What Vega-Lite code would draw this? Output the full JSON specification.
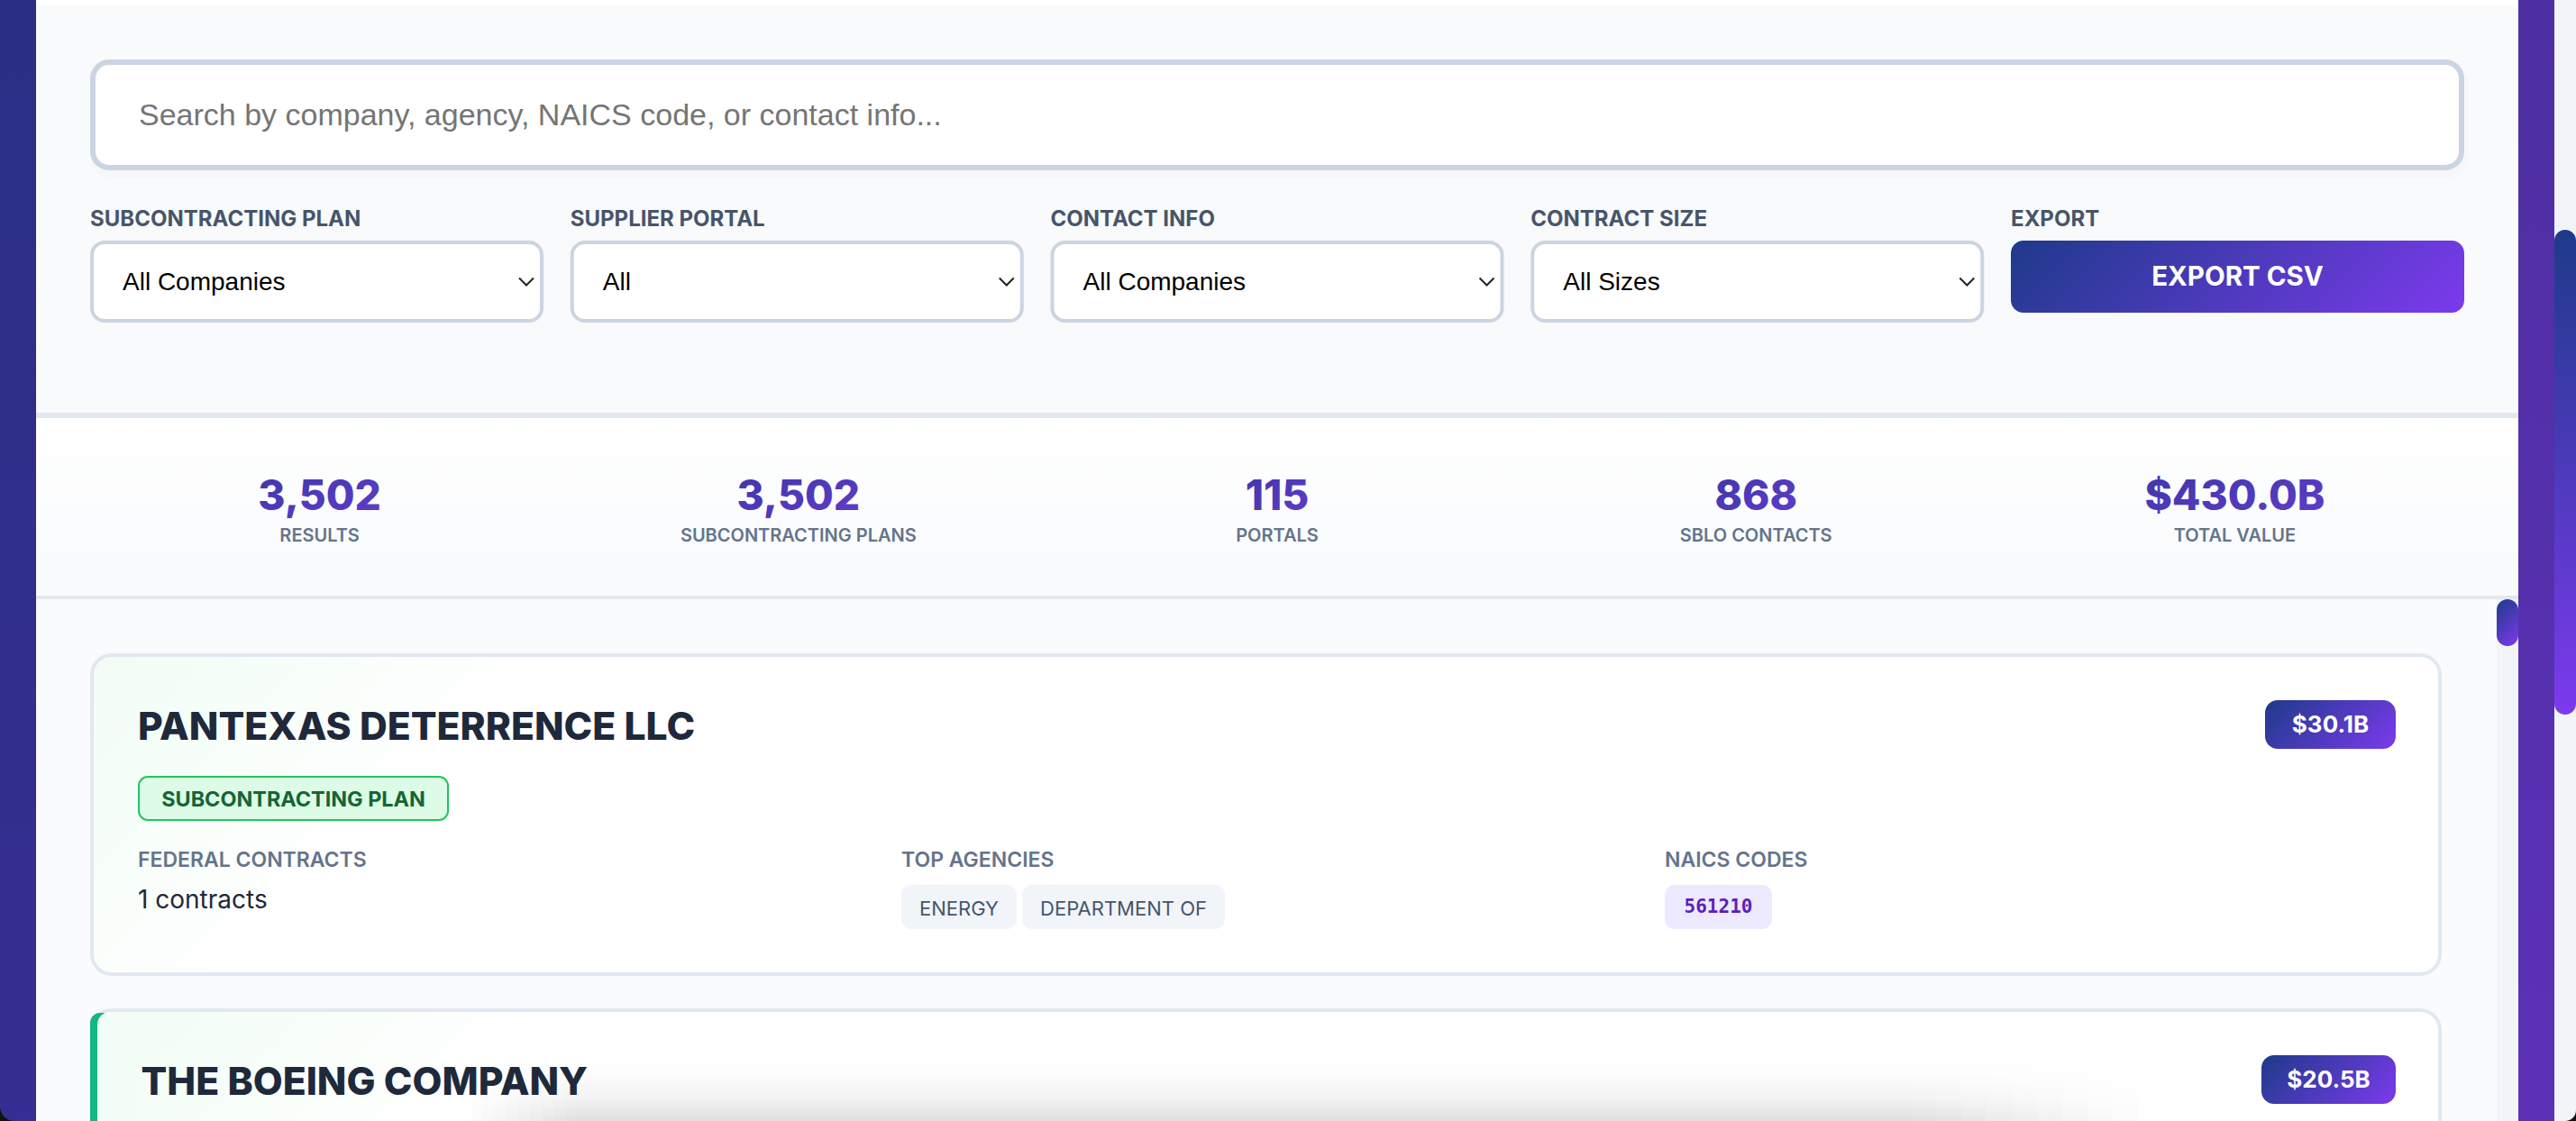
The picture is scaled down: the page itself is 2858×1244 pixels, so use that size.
{"$schema":"https://vega.github.io/schema/vega-lite/v6.json","width":2858,"height":1244,"padding":0,"autosize":"none","background":"#ffffff","config":{"view":{"stroke":null}},"resolve":{"scale":{"x":"independent","y":"independent","opacity":"independent"}},"layer":[
{"data":{"values":[{"col":"Corner left","row":"Corner"}]},"mark":{"type":"rect","fill":"#0c140c"},"encoding":{"x":{"field":"col","type":"nominal","axis":null,"scale":{"type":"band","domain":["Corner left"],"range":[0,20],"paddingInner":0,"paddingOuter":0}},"y":{"field":"row","type":"nominal","axis":null,"scale":{"type":"band","domain":["Corner"],"range":[1224,1244],"paddingInner":0,"paddingOuter":0}}}},
{"data":{"values":[{"col":"Corner right","row":"Corner"}]},"mark":{"type":"rect","fill":"#0c140c"},"encoding":{"x":{"field":"col","type":"nominal","axis":null,"scale":{"type":"band","domain":["Corner right"],"range":[2838,2858],"paddingInner":0,"paddingOuter":0}},"y":{"field":"row","type":"nominal","axis":null,"scale":{"type":"band","domain":["Corner"],"range":[1224,1244],"paddingInner":0,"paddingOuter":0}}}},
{"data":{"values":[{"col":"Left edge","row":"Window"}]},"mark":{"type":"rect","cornerRadiusBottomLeft":16,"fill":{"gradient":"linear","x1":0,"y1":0,"x2":0,"y2":1,"stops":[{"offset":0,"color":"#2a2f85"},{"offset":1,"color":"#362e92"}]}},"encoding":{"x":{"field":"col","type":"nominal","axis":null,"scale":{"type":"band","domain":["Left edge"],"range":[0,40],"paddingInner":0,"paddingOuter":0}},"y":{"field":"row","type":"nominal","axis":null,"scale":{"type":"band","domain":["Window"],"range":[0,1244],"paddingInner":0,"paddingOuter":0}}}},
{"data":{"values":[{"col":"Right edge","row":"Window"}]},"mark":{"type":"rect","fill":{"gradient":"linear","x1":0,"y1":0,"x2":0,"y2":1,"stops":[{"offset":0,"color":"#4e2fa2"},{"offset":1,"color":"#5c31b8"}]}},"encoding":{"x":{"field":"col","type":"nominal","axis":null,"scale":{"type":"band","domain":["Right edge"],"range":[2794,2834],"paddingInner":0,"paddingOuter":0}},"y":{"field":"row","type":"nominal","axis":null,"scale":{"type":"band","domain":["Window"],"range":[0,1244],"paddingInner":0,"paddingOuter":0}}}},
{"data":{"values":[{"col":"Page track","row":"Window"}]},"mark":{"type":"rect","fill":"#f1f5f9","cornerRadiusBottomRight":16},"encoding":{"x":{"field":"col","type":"nominal","axis":null,"scale":{"type":"band","domain":["Page track"],"range":[2834,2858],"paddingInner":0,"paddingOuter":0}},"y":{"field":"row","type":"nominal","axis":null,"scale":{"type":"band","domain":["Window"],"range":[0,1244],"paddingInner":0,"paddingOuter":0}}}},
{"data":{"values":[{"col":"Page thumb","row":"Thumb"}]},"mark":{"type":"rect","cornerRadius":12,"fill":{"gradient":"linear","x1":0,"y1":0,"x2":0,"y2":1,"stops":[{"offset":0,"color":"#1e3a8a"},{"offset":1,"color":"#7c3aed"}]}},"encoding":{"x":{"field":"col","type":"nominal","axis":null,"scale":{"type":"band","domain":["Page thumb"],"range":[2834,2858],"paddingInner":0,"paddingOuter":0}},"y":{"field":"row","type":"nominal","axis":null,"scale":{"type":"band","domain":["Thumb"],"range":[255,793],"paddingInner":0,"paddingOuter":0}}}},
{"data":{"values":[{"col":"Panel","row":"Filters"}]},"mark":{"type":"rect","fill":"#f8fafc"},"encoding":{"x":{"field":"col","type":"nominal","axis":null,"scale":{"type":"band","domain":["Panel"],"range":[40,2794],"paddingInner":0,"paddingOuter":0}},"y":{"field":"row","type":"nominal","axis":null,"scale":{"type":"band","domain":["Filters"],"range":[6,458],"paddingInner":0,"paddingOuter":0}}}},
{"data":{"values":[{"col":"Panel","row":"Divider"}]},"mark":{"type":"rect","fill":"#e2e8f0"},"encoding":{"x":{"field":"col","type":"nominal","axis":null,"scale":{"type":"band","domain":["Panel"],"range":[40,2794],"paddingInner":0,"paddingOuter":0}},"y":{"field":"row","type":"nominal","axis":null,"scale":{"type":"band","domain":["Divider"],"range":[458,464],"paddingInner":0,"paddingOuter":0}}}},
{"data":{"values":[{"col":"Panel","row":"Stats"}]},"mark":{"type":"rect","fill":{"gradient":"linear","x1":0,"y1":0,"x2":0,"y2":1,"stops":[{"offset":0,"color":"#ffffff"},{"offset":1,"color":"#f8fafc"}]}},"encoding":{"x":{"field":"col","type":"nominal","axis":null,"scale":{"type":"band","domain":["Panel"],"range":[40,2794],"paddingInner":0,"paddingOuter":0}},"y":{"field":"row","type":"nominal","axis":null,"scale":{"type":"band","domain":["Stats"],"range":[464,661],"paddingInner":0,"paddingOuter":0}}}},
{"data":{"values":[{"col":"Panel","row":"Divider"}]},"mark":{"type":"rect","fill":"#e2e8f0"},"encoding":{"x":{"field":"col","type":"nominal","axis":null,"scale":{"type":"band","domain":["Panel"],"range":[40,2794],"paddingInner":0,"paddingOuter":0}},"y":{"field":"row","type":"nominal","axis":null,"scale":{"type":"band","domain":["Divider"],"range":[661,665],"paddingInner":0,"paddingOuter":0}}}},
{"data":{"values":[{"col":"Panel","row":"List"}]},"mark":{"type":"rect","fill":"#fafbfd"},"encoding":{"x":{"field":"col","type":"nominal","axis":null,"scale":{"type":"band","domain":["Panel"],"range":[40,2794],"paddingInner":0,"paddingOuter":0}},"y":{"field":"row","type":"nominal","axis":null,"scale":{"type":"band","domain":["List"],"range":[665,1244],"paddingInner":0,"paddingOuter":0}}}},
{"data":{"values":[{"col":"List track","row":"List"}]},"mark":{"type":"rect","fill":"#f1f5f9"},"encoding":{"x":{"field":"col","type":"nominal","axis":null,"scale":{"type":"band","domain":["List track"],"range":[2770,2794],"paddingInner":0,"paddingOuter":0}},"y":{"field":"row","type":"nominal","axis":null,"scale":{"type":"band","domain":["List"],"range":[665,1244],"paddingInner":0,"paddingOuter":0}}}},
{"data":{"values":[{"col":"List thumb","row":"Thumb"}]},"mark":{"type":"rect","cornerRadius":12,"fill":{"gradient":"linear","x1":0,"y1":0,"x2":0.556,"y2":1.206,"stops":[{"offset":0,"color":"#1e3a8a"},{"offset":1,"color":"#7c3aed"}]}},"encoding":{"x":{"field":"col","type":"nominal","axis":null,"scale":{"type":"band","domain":["List thumb"],"range":[2770,2794],"paddingInner":0,"paddingOuter":0}},"y":{"field":"row","type":"nominal","axis":null,"scale":{"type":"band","domain":["Thumb"],"range":[665,717],"paddingInner":0,"paddingOuter":0}}}},
{"data":{"values":[{"col":"Search","row":"Search"}]},"mark":{"type":"rect","fill":"#f5f7f9","cornerRadius":20},"encoding":{"x":{"field":"col","type":"nominal","axis":null,"scale":{"type":"band","domain":["Search"],"range":[102,2738],"paddingInner":0,"paddingOuter":0}},"y":{"field":"row","type":"nominal","axis":null,"scale":{"type":"band","domain":["Search"],"range":[70,197],"paddingInner":0,"paddingOuter":0}}}},
{"data":{"values":[{"col":"Search","row":"Search"}]},"mark":{"type":"rect","fill":"#ffffff","stroke":"#cbd5e1","strokeWidth":6,"cornerRadius":18},"encoding":{"x":{"field":"col","type":"nominal","axis":null,"scale":{"type":"band","domain":["Search"],"range":[103,2731],"paddingInner":0,"paddingOuter":0}},"y":{"field":"row","type":"nominal","axis":null,"scale":{"type":"band","domain":["Search"],"range":[69,186],"paddingInner":0,"paddingOuter":0}}}},
{"data":{"values":[{"col":"Search","row":"Search","text":"Search by company, agency, NAICS code, or contact info..."}]},"mark":{"type":"text","align":"left","baseline":"middle","font":"Liberation Sans","fontSize":34,"fill":"#757575"},"encoding":{"text":{"field":"text"},"x":{"field":"col","type":"nominal","axis":null,"bandPosition":0,"scale":{"type":"band","domain":["Search"],"range":[154,2700],"paddingInner":0,"paddingOuter":0}},"y":{"field":"row","type":"nominal","axis":null,"bandPosition":0.5,"scale":{"type":"band","domain":["Search"],"range":[70,187],"paddingInner":0,"paddingOuter":0}}}},
{"data":{"values":[{"col":"Subcontracting plan","row":"Label","text":"SUBCONTRACTING PLAN"},{"col":"Supplier portal","row":"Label","text":"SUPPLIER PORTAL"},{"col":"Contact info","row":"Label","text":"CONTACT INFO"},{"col":"Contract size","row":"Label","text":"CONTRACT SIZE"},{"col":"Export","row":"Label","text":"EXPORT"}]},"mark":{"type":"text","align":"left","baseline":"middle","font":"Inter","fontWeight":700,"fontSize":24,"fill":"#475569"},"encoding":{"text":{"field":"text"},"x":{"field":"col","type":"nominal","axis":null,"bandPosition":0,"scale":{"type":"band","domain":["Subcontracting plan","Supplier portal","Contact info","Contract size","Export"],"range":[100,2734],"paddingInner":0.056,"paddingOuter":0}},"y":{"field":"row","type":"nominal","axis":null,"bandPosition":0.5,"scale":{"type":"band","domain":["Label"],"range":[224,264],"paddingInner":0,"paddingOuter":0}}}},
{"data":{"values":[{"col":"Subcontracting plan","row":"Select"},{"col":"Supplier portal","row":"Select"},{"col":"Contact info","row":"Select"},{"col":"Contract size","row":"Select"}]},"mark":{"type":"rect","fill":"#ffffff","stroke":"#cbd5e1","strokeWidth":4,"cornerRadius":14},"encoding":{"x":{"field":"col","type":"nominal","axis":null,"scale":{"type":"band","domain":["Subcontracting plan","Supplier portal","Contact info","Contract size","Export"],"range":[102,2732],"paddingInner":0.0633,"paddingOuter":0}},"y":{"field":"row","type":"nominal","axis":null,"scale":{"type":"band","domain":["Select"],"range":[269,356],"paddingInner":0,"paddingOuter":0}}}},
{"data":{"values":[{"col":"Subcontracting plan","row":"Select","text":"All Companies"},{"col":"Supplier portal","row":"Select","text":"All"},{"col":"Contact info","row":"Select","text":"All Companies"},{"col":"Contract size","row":"Select","text":"All Sizes"}]},"mark":{"type":"text","align":"left","baseline":"middle","font":"Liberation Sans","fontSize":28,"fill":"#000000"},"encoding":{"text":{"field":"text"},"x":{"field":"col","type":"nominal","axis":null,"bandPosition":0,"scale":{"type":"band","domain":["Subcontracting plan","Supplier portal","Contact info","Contract size","Export"],"range":[136,2770],"paddingInner":0.056,"paddingOuter":0}},"y":{"field":"row","type":"nominal","axis":null,"bandPosition":0.5,"scale":{"type":"band","domain":["Select"],"range":[270,357],"paddingInner":0,"paddingOuter":0}}}},
{"data":{"values":[{"col":"Subcontracting plan","row":"Select"},{"col":"Supplier portal","row":"Select"},{"col":"Contact info","row":"Select"},{"col":"Contract size","row":"Select"}]},"mark":{"type":"point","shape":"M-1,-0.5L0,0.5L1,-0.5","filled":false,"stroke":"#222222","strokeWidth":2,"size":256,"opacity":1},"encoding":{"x":{"field":"col","type":"nominal","axis":null,"bandPosition":0,"scale":{"type":"band","domain":["Subcontracting plan","Supplier portal","Contact info","Contract size","Export"],"range":[584,3218],"paddingInner":0.056,"paddingOuter":0}},"y":{"field":"row","type":"nominal","axis":null,"bandPosition":0.5,"scale":{"type":"band","domain":["Select"],"range":[269,356],"paddingInner":0,"paddingOuter":0}}}},
{"data":{"values":[{"col":"Export","row":"Button"}]},"mark":{"type":"rect","cornerRadius":14,"fill":{"gradient":"linear","x1":0,"y1":0,"x2":1.13,"y2":0.18,"stops":[{"offset":0,"color":"#1e3a8a"},{"offset":1,"color":"#7c3aed"}]}},"encoding":{"x":{"field":"col","type":"nominal","axis":null,"scale":{"type":"band","domain":["Export"],"range":[2231,2734],"paddingInner":0,"paddingOuter":0}},"y":{"field":"row","type":"nominal","axis":null,"scale":{"type":"band","domain":["Button"],"range":[267,347],"paddingInner":0,"paddingOuter":0}}}},
{"data":{"values":[{"col":"Export","row":"Button","text":"EXPORT CSV"}]},"mark":{"type":"text","align":"center","baseline":"middle","font":"Inter","fontWeight":700,"fontSize":29.5,"fill":"#ffffff"},"encoding":{"text":{"field":"text"},"x":{"field":"col","type":"nominal","axis":null,"bandPosition":0.5,"scale":{"type":"band","domain":["Export"],"range":[2231,2734],"paddingInner":0,"paddingOuter":0}},"y":{"field":"row","type":"nominal","axis":null,"bandPosition":0.5,"scale":{"type":"band","domain":["Button"],"range":[268,348],"paddingInner":0,"paddingOuter":0}}}},
{"data":{"values":[{"col":"Results","row":"Value","text":"3,502"},{"col":"Subcontracting plans","row":"Value","text":"3,502"},{"col":"Portals","row":"Value","text":"115"},{"col":"SBLO contacts","row":"Value","text":"868"},{"col":"Total value","row":"Value","text":"$430.0B"}]},"mark":{"type":"text","align":"center","baseline":"middle","font":"Inter","fontWeight":800,"fontSize":46,"fill":{"gradient":"linear","x1":0,"y1":0,"x2":1,"y2":1,"stops":[{"offset":0,"color":"#3f37a8"},{"offset":1,"color":"#5f3ccb"}]}},"encoding":{"text":{"field":"text"},"x":{"field":"col","type":"nominal","axis":null,"bandPosition":0.5,"scale":{"type":"band","domain":["Results","Subcontracting plans","Portals","SBLO contacts","Total value"],"range":[89,2745],"paddingInner":0,"paddingOuter":0}},"y":{"field":"row","type":"nominal","axis":null,"bandPosition":0.5,"scale":{"type":"band","domain":["Value"],"range":[523,581],"paddingInner":0,"paddingOuter":0}}}},
{"data":{"values":[{"col":"Results","row":"Label","text":"RESULTS"},{"col":"Subcontracting plans","row":"Label","text":"SUBCONTRACTING PLANS"},{"col":"Portals","row":"Label","text":"PORTALS"},{"col":"SBLO contacts","row":"Label","text":"SBLO CONTACTS"},{"col":"Total value","row":"Label","text":"TOTAL VALUE"}]},"mark":{"type":"text","align":"center","baseline":"middle","font":"Inter","fontWeight":600,"fontSize":20,"fill":"#64748b"},"encoding":{"text":{"field":"text"},"x":{"field":"col","type":"nominal","axis":null,"bandPosition":0.5,"scale":{"type":"band","domain":["Results","Subcontracting plans","Portals","SBLO contacts","Total value"],"range":[89,2745],"paddingInner":0,"paddingOuter":0}},"y":{"field":"row","type":"nominal","axis":null,"bandPosition":0.5,"scale":{"type":"band","domain":["Label"],"range":[581,609],"paddingInner":0,"paddingOuter":0}}}},
{"data":{"values":[{"col":"Card","row":"PANTEXAS DETERRENCE LLC"},{"col":"Card","row":"THE BOEING COMPANY"}]},"mark":{"type":"rect","clip":true,"stroke":"#e2e8f0","strokeWidth":4,"cornerRadius":22,"fill":{"gradient":"linear","x1":0,"y1":0,"x2":1.12,"y2":0.15,"stops":[{"offset":0,"color":"#f0fdf4"},{"offset":0.17,"color":"#ffffff"},{"offset":1,"color":"#ffffff"}]}},"encoding":{"x":{"field":"col","type":"nominal","axis":null,"scale":{"type":"band","domain":["Card"],"range":[102,2707],"paddingInner":0,"paddingOuter":0}},"y":{"field":"row","type":"nominal","axis":null,"scale":{"type":"band","domain":["PANTEXAS DETERRENCE LLC","THE BOEING COMPANY"],"range":[727,1475],"paddingInner":0.1015,"paddingOuter":0}}}},
{"data":{"values":[{"col":"Accent","row":"THE BOEING COMPANY"}]},"mark":{"type":"rect","clip":true,"fill":"#10b981","cornerRadiusTopLeft":18},"encoding":{"x":{"field":"col","type":"nominal","axis":null,"scale":{"type":"band","domain":["Accent"],"range":[100,122],"paddingInner":0,"paddingOuter":0}},"y":{"field":"row","type":"nominal","axis":null,"scale":{"type":"band","domain":["THE BOEING COMPANY"],"range":[1124,1300],"paddingInner":0,"paddingOuter":0}}}},
{"data":{"values":[{"col":"Accent inner","row":"THE BOEING COMPANY"}]},"mark":{"type":"rect","clip":true,"fill":"#f1fdf5","cornerRadiusTopLeft":14},"encoding":{"x":{"field":"col","type":"nominal","axis":null,"scale":{"type":"band","domain":["Accent inner"],"range":[108,150],"paddingInner":0,"paddingOuter":0}},"y":{"field":"row","type":"nominal","axis":null,"scale":{"type":"band","domain":["THE BOEING COMPANY"],"range":[1123,1300],"paddingInner":0,"paddingOuter":0}}}},
{"data":{"values":[{"col":"Shade","row":"Shade"}]},"mark":{"type":"rect","fill":{"gradient":"linear","x1":0,"y1":0,"x2":0,"y2":1,"stops":[{"offset":0,"color":"#ffffff"},{"offset":0.3,"color":"#fcfcfc"},{"offset":0.65,"color":"#f3f3f3"},{"offset":1,"color":"#dfdfdf"}]}},"encoding":{"x":{"field":"col","type":"nominal","axis":null,"scale":{"type":"band","domain":["Shade"],"range":[640,2120],"paddingInner":0,"paddingOuter":0}},"y":{"field":"row","type":"nominal","axis":null,"scale":{"type":"band","domain":["Shade"],"range":[1170,1244],"paddingInner":0,"paddingOuter":0}}}},
{"data":{"values":[{"col":"L1","row":"Shade"},{"col":"L2","row":"Shade"},{"col":"L3","row":"Shade"},{"col":"L4","row":"Shade"},{"col":"L5","row":"Shade"},{"col":"L6","row":"Shade"},{"col":"L7","row":"Shade"},{"col":"L8","row":"Shade"},{"col":"L9","row":"Shade"},{"col":"L10","row":"Shade"}]},"mark":{"type":"rect","fill":{"gradient":"linear","x1":0,"y1":0,"x2":0,"y2":1,"stops":[{"offset":0,"color":"#ffffff"},{"offset":0.3,"color":"#fcfcfc"},{"offset":0.65,"color":"#f3f3f3"},{"offset":1,"color":"#dfdfdf"}]}},"encoding":{"opacity":{"field":"col","type":"ordinal","legend":null,"scale":{"domain":["L1","L2","L3","L4","L5","L6","L7","L8","L9","L10"],"range":[0.03,0.95]}},"x":{"field":"col","type":"nominal","axis":null,"scale":{"type":"band","domain":["L1","L2","L3","L4","L5","L6","L7","L8","L9","L10"],"range":[510,640],"paddingInner":0,"paddingOuter":0}},"y":{"field":"row","type":"nominal","axis":null,"scale":{"type":"band","domain":["Shade"],"range":[1170,1244],"paddingInner":0,"paddingOuter":0}}}},
{"data":{"values":[{"col":"R1","row":"Shade"},{"col":"R2","row":"Shade"},{"col":"R3","row":"Shade"},{"col":"R4","row":"Shade"},{"col":"R5","row":"Shade"},{"col":"R6","row":"Shade"},{"col":"R7","row":"Shade"},{"col":"R8","row":"Shade"},{"col":"R9","row":"Shade"},{"col":"R10","row":"Shade"}]},"mark":{"type":"rect","fill":{"gradient":"linear","x1":0,"y1":0,"x2":0,"y2":1,"stops":[{"offset":0,"color":"#ffffff"},{"offset":0.3,"color":"#fcfcfc"},{"offset":0.65,"color":"#f3f3f3"},{"offset":1,"color":"#dfdfdf"}]}},"encoding":{"opacity":{"field":"col","type":"ordinal","legend":null,"scale":{"domain":["R1","R2","R3","R4","R5","R6","R7","R8","R9","R10"],"range":[0.95,0.03]}},"x":{"field":"col","type":"nominal","axis":null,"scale":{"type":"band","domain":["R1","R2","R3","R4","R5","R6","R7","R8","R9","R10"],"range":[2120,2400],"paddingInner":0,"paddingOuter":0}},"y":{"field":"row","type":"nominal","axis":null,"scale":{"type":"band","domain":["Shade"],"range":[1170,1244],"paddingInner":0,"paddingOuter":0}}}},
{"data":{"values":[{"col":"PANTEXAS DETERRENCE LLC","row":"PANTEXAS DETERRENCE LLC","text":"PANTEXAS DETERRENCE LLC"},{"col":"THE BOEING COMPANY","row":"THE BOEING COMPANY","text":"THE BOEING COMPANY"}]},"mark":{"type":"text","align":"left","baseline":"middle","font":"Inter","fontWeight":800,"fontSize":42.6,"fill":"#1e293b"},"encoding":{"text":{"field":"text"},"x":{"field":"col","type":"nominal","axis":null,"bandPosition":0,"scale":{"type":"band","domain":["PANTEXAS DETERRENCE LLC","THE BOEING COMPANY"],"range":[153,160],"paddingInner":0,"paddingOuter":0}},"y":{"field":"row","type":"nominal","axis":null,"bandPosition":0.5,"scale":{"type":"band","domain":["PANTEXAS DETERRENCE LLC","THE BOEING COMPANY"],"range":[791,1219],"paddingInner":0.9137,"paddingOuter":0}}}},
{"data":{"values":[{"col":"Value","row":"PANTEXAS"}]},"mark":{"type":"rect","cornerRadius":14,"fill":{"gradient":"linear","x1":0,"y1":0,"x2":1.205,"y2":0.449,"stops":[{"offset":0,"color":"#1e3a8a"},{"offset":1,"color":"#7c3aed"}]}},"encoding":{"x":{"field":"col","type":"nominal","axis":null,"scale":{"type":"band","domain":["Value"],"range":[2513,2658],"paddingInner":0,"paddingOuter":0}},"y":{"field":"row","type":"nominal","axis":null,"scale":{"type":"band","domain":["PANTEXAS"],"range":[777,831],"paddingInner":0,"paddingOuter":0}}}},
{"data":{"values":[{"col":"Value","row":"PANTEXAS","text":"$30.1B"}]},"mark":{"type":"text","align":"center","baseline":"middle","font":"Inter","fontWeight":700,"fontSize":26,"fill":"#ffffff"},"encoding":{"text":{"field":"text"},"x":{"field":"col","type":"nominal","axis":null,"bandPosition":0.5,"scale":{"type":"band","domain":["Value"],"range":[2513,2658],"paddingInner":0,"paddingOuter":0}},"y":{"field":"row","type":"nominal","axis":null,"bandPosition":0.5,"scale":{"type":"band","domain":["PANTEXAS"],"range":[778,832],"paddingInner":0,"paddingOuter":0}}}},
{"data":{"values":[{"col":"Value","row":"BOEING"}]},"mark":{"type":"rect","cornerRadius":14,"fill":{"gradient":"linear","x1":0,"y1":0,"x2":1.205,"y2":0.449,"stops":[{"offset":0,"color":"#1e3a8a"},{"offset":1,"color":"#7c3aed"}]}},"encoding":{"x":{"field":"col","type":"nominal","axis":null,"scale":{"type":"band","domain":["Value"],"range":[2509,2658],"paddingInner":0,"paddingOuter":0}},"y":{"field":"row","type":"nominal","axis":null,"scale":{"type":"band","domain":["BOEING"],"range":[1171,1225],"paddingInner":0,"paddingOuter":0}}}},
{"data":{"values":[{"col":"Value","row":"BOEING","text":"$20.5B"}]},"mark":{"type":"text","align":"center","baseline":"middle","font":"Inter","fontWeight":700,"fontSize":26,"fill":"#ffffff"},"encoding":{"text":{"field":"text"},"x":{"field":"col","type":"nominal","axis":null,"bandPosition":0.5,"scale":{"type":"band","domain":["Value"],"range":[2509,2658],"paddingInner":0,"paddingOuter":0}},"y":{"field":"row","type":"nominal","axis":null,"bandPosition":0.5,"scale":{"type":"band","domain":["BOEING"],"range":[1172,1226],"paddingInner":0,"paddingOuter":0}}}},
{"data":{"values":[{"col":"Badge","row":"Badge"}]},"mark":{"type":"rect","fill":"#dcfce7","stroke":"#22c55e","strokeWidth":2,"cornerRadius":10},"encoding":{"x":{"field":"col","type":"nominal","axis":null,"scale":{"type":"band","domain":["Badge"],"range":[154,497],"paddingInner":0,"paddingOuter":0}},"y":{"field":"row","type":"nominal","axis":null,"scale":{"type":"band","domain":["Badge"],"range":[862,910],"paddingInner":0,"paddingOuter":0}}}},
{"data":{"values":[{"col":"Badge","row":"Badge","text":"SUBCONTRACTING PLAN"}]},"mark":{"type":"text","align":"center","baseline":"middle","font":"Inter","fontWeight":700,"fontSize":23.4,"fill":"#166534"},"encoding":{"text":{"field":"text"},"x":{"field":"col","type":"nominal","axis":null,"bandPosition":0.5,"scale":{"type":"band","domain":["Badge"],"range":[154,497],"paddingInner":0,"paddingOuter":0}},"y":{"field":"row","type":"nominal","axis":null,"bandPosition":0.5,"scale":{"type":"band","domain":["Badge"],"range":[864,912],"paddingInner":0,"paddingOuter":0}}}},
{"data":{"values":[{"col":"Federal contracts","row":"Heading","text":"FEDERAL CONTRACTS"},{"col":"Top agencies","row":"Heading","text":"TOP AGENCIES"},{"col":"NAICS codes","row":"Heading","text":"NAICS CODES"}]},"mark":{"type":"text","align":"left","baseline":"middle","font":"Inter","fontWeight":600,"fontSize":23,"fill":"#64748b"},"encoding":{"text":{"field":"text"},"x":{"field":"col","type":"nominal","axis":null,"bandPosition":0,"scale":{"type":"band","domain":["Federal contracts","Top agencies","NAICS codes"],"range":[153,2694],"paddingInner":0,"paddingOuter":0}},"y":{"field":"row","type":"nominal","axis":null,"bandPosition":0.5,"scale":{"type":"band","domain":["Heading"],"range":[940,970],"paddingInner":0,"paddingOuter":0}}}},
{"data":{"values":[{"col":"Federal contracts","row":"Count","text":"1 contracts"}]},"mark":{"type":"text","align":"left","baseline":"middle","font":"Inter","fontWeight":400,"fontSize":28,"fill":"#1e293b"},"encoding":{"text":{"field":"text"},"x":{"field":"col","type":"nominal","axis":null,"bandPosition":0,"scale":{"type":"band","domain":["Federal contracts"],"range":[153,1000],"paddingInner":0,"paddingOuter":0}},"y":{"field":"row","type":"nominal","axis":null,"bandPosition":0.5,"scale":{"type":"band","domain":["Count"],"range":[980,1020],"paddingInner":0,"paddingOuter":0}}}},
{"data":{"values":[{"col":"ENERGY","row":"Chip"}]},"mark":{"type":"rect","fill":"#f1f5f9","cornerRadius":11},"encoding":{"x":{"field":"col","type":"nominal","axis":null,"scale":{"type":"band","domain":["ENERGY"],"range":[1000,1128],"paddingInner":0,"paddingOuter":0}},"y":{"field":"row","type":"nominal","axis":null,"scale":{"type":"band","domain":["Chip"],"range":[982,1031],"paddingInner":0,"paddingOuter":0}}}},
{"data":{"values":[{"col":"ENERGY","row":"Chip","text":"ENERGY"}]},"mark":{"type":"text","align":"center","baseline":"middle","font":"Inter","fontWeight":400,"fontSize":22,"fill":"#475569"},"encoding":{"text":{"field":"text"},"x":{"field":"col","type":"nominal","axis":null,"bandPosition":0.5,"scale":{"type":"band","domain":["ENERGY"],"range":[1000,1128],"paddingInner":0,"paddingOuter":0}},"y":{"field":"row","type":"nominal","axis":null,"bandPosition":0.5,"scale":{"type":"band","domain":["Chip"],"range":[984,1033],"paddingInner":0,"paddingOuter":0}}}},
{"data":{"values":[{"col":"DEPARTMENT OF","row":"Chip"}]},"mark":{"type":"rect","fill":"#f1f5f9","cornerRadius":11},"encoding":{"x":{"field":"col","type":"nominal","axis":null,"scale":{"type":"band","domain":["DEPARTMENT OF"],"range":[1134,1359],"paddingInner":0,"paddingOuter":0}},"y":{"field":"row","type":"nominal","axis":null,"scale":{"type":"band","domain":["Chip"],"range":[982,1031],"paddingInner":0,"paddingOuter":0}}}},
{"data":{"values":[{"col":"DEPARTMENT OF","row":"Chip","text":"DEPARTMENT OF"}]},"mark":{"type":"text","align":"center","baseline":"middle","font":"Inter","fontWeight":400,"fontSize":22,"fill":"#475569"},"encoding":{"text":{"field":"text"},"x":{"field":"col","type":"nominal","axis":null,"bandPosition":0.5,"scale":{"type":"band","domain":["DEPARTMENT OF"],"range":[1134,1359],"paddingInner":0,"paddingOuter":0}},"y":{"field":"row","type":"nominal","axis":null,"bandPosition":0.5,"scale":{"type":"band","domain":["Chip"],"range":[984,1033],"paddingInner":0,"paddingOuter":0}}}},
{"data":{"values":[{"col":"561210","row":"Chip"}]},"mark":{"type":"rect","fill":"#ede9fe","cornerRadius":11},"encoding":{"x":{"field":"col","type":"nominal","axis":null,"scale":{"type":"band","domain":["561210"],"range":[1847,1966],"paddingInner":0,"paddingOuter":0}},"y":{"field":"row","type":"nominal","axis":null,"scale":{"type":"band","domain":["Chip"],"range":[982,1031],"paddingInner":0,"paddingOuter":0}}}},
{"data":{"values":[{"col":"561210","row":"Chip","text":"561210"}]},"mark":{"type":"text","align":"center","baseline":"middle","font":"DejaVu Sans Mono","fontWeight":700,"fontSize":21,"fill":"#5b21b6"},"encoding":{"text":{"field":"text"},"x":{"field":"col","type":"nominal","axis":null,"bandPosition":0.5,"scale":{"type":"band","domain":["561210"],"range":[1847,1966],"paddingInner":0,"paddingOuter":0}},"y":{"field":"row","type":"nominal","axis":null,"bandPosition":0.5,"scale":{"type":"band","domain":["Chip"],"range":[982,1031],"paddingInner":0,"paddingOuter":0}}}}
]}
